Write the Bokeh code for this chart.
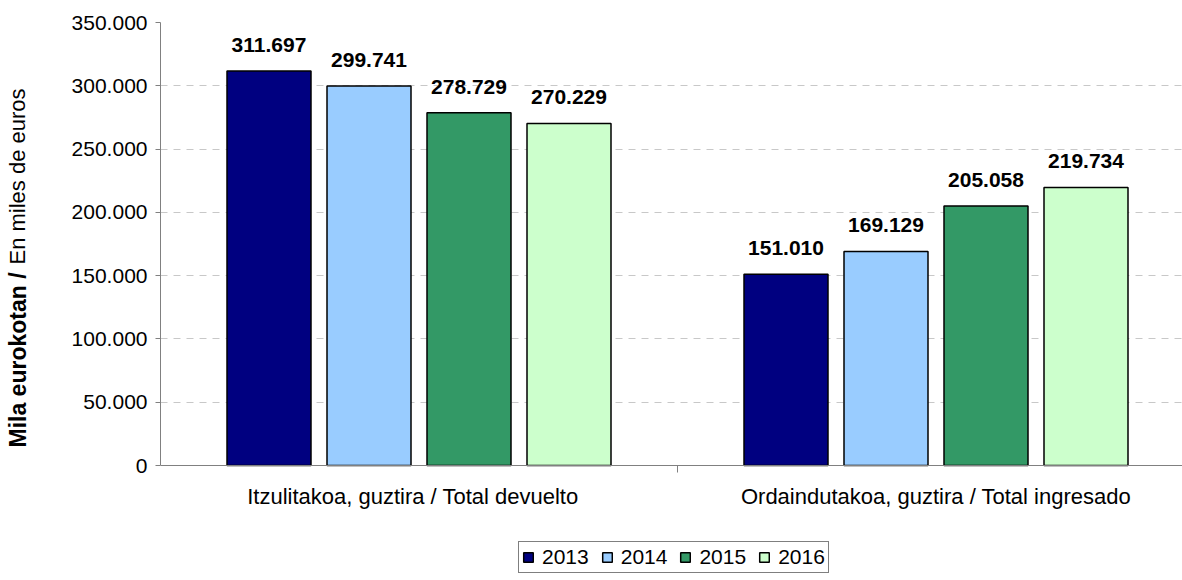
import math
from bokeh.plotting import figure
from bokeh.models import (Range1d, FixedTicker, CustomJSTickFormatter, Legend,
                          LegendItem, ColumnDataSource, Title)
from bokeh.transform import dodge
from bokeh.embed import file_html
from bokeh.resources import INLINE
from bokeh.core.properties import value

# ---- data ----
categories = ["Itzulitakoa, guztira  /  Total devuelto",
              "Ordaindutakoa, guztira / Total ingresado"]
years = ["2013", "2014", "2015", "2016"]
values_2013 = [311697, 151010]
values_2014 = [299741, 169129]
values_2015 = [278729, 205058]
values_2016 = [270229, 219734]
series = [values_2013, values_2014, values_2015, values_2016]
colors = ["#000080", "#99CCFF", "#339966", "#CCFFCC"]
y_ticks = [0, 50000, 100000, 150000, 200000, 250000, 300000, 350000]
y_max = 350000
y_title_bold = "Mila eurokotan /"
y_title_normal = "En miles de euros"

FONT = "Liberation Sans"
LEFT = 160
TOP = 22
PLOT_H = 443          # pixels from 0 to y_max
BELOW = 108           # frame extends below the zero line (labels + legend live here)
cat_pos = [0.5 + i for i in range(len(categories))]
px_per_unit = 517.0
bar_pitch = 100.0 / px_per_unit
bar_width = 84.0 / px_per_unit
FRAME_W = 1182 - LEFT
FRAME_H = PLOT_H + BELOW
y_min = -BELOW / PLOT_H * y_max


def fmt(v):
    return f"{v:,}".replace(",", ".")


p = figure(frame_width=FRAME_W, frame_height=FRAME_H,
           min_border_left=LEFT, min_border_right=0, min_border_top=TOP,
           min_border_bottom=7,
           x_range=Range1d(0, FRAME_W / px_per_unit), y_range=Range1d(y_min, y_max),
           output_backend="svg", toolbar_location=None,
           background_fill_color="white", border_fill_color="white")
p.outline_line_color = None

renderers = []
for i, (yr, vals, col) in enumerate(zip(years, series, colors)):
    off = (i - 1.5) * bar_pitch
    src = ColumnDataSource(dict(x=cat_pos, top=vals, label=[fmt(v) for v in vals]))
    r = p.vbar(x=dodge("x", off, range=p.x_range), top="top", bottom=0, width=bar_width,
               source=src, fill_color=col, line_color="black", line_width=1.5)
    renderers.append((yr, r))
    p.text(x=dodge("x", off, range=p.x_range), y="top", text="label", source=src,
           text_align="center", text_baseline="alphabetic", y_offset=-26,
           text_font=value(FONT), text_font_style="bold", text_font_size="21px",
           text_color="black")

# category labels under the zero line
p.text(x=cat_pos, y=[0] * len(cat_pos), text=categories, text_align="center",
       text_baseline="middle", y_offset=31, text_font=value(FONT),
       text_font_size="22px", text_color="black")

# y axis
p.yaxis.ticker = FixedTicker(ticks=y_ticks)
p.yaxis.bounds = (0, y_max)
p.yaxis.formatter = CustomJSTickFormatter(code="""
    return Math.round(tick).toString().replace(/\\B(?=(\\d{3})+(?!\\d))/g, ".");
""")
p.yaxis.axis_line_color = "#808080"
p.yaxis.major_tick_line_color = "#808080"
p.yaxis.major_tick_out = 5
p.yaxis.major_tick_in = 0
p.yaxis.minor_tick_line_color = None
p.yaxis.major_label_standoff = 8
p.yaxis.major_label_text_font = FONT
p.yaxis.major_label_text_font_size = "21px"
p.yaxis.major_label_text_color = "black"

# y axis title in two styles: spacer, then two zero-width titles sharing a column
p.add_layout(Title(text=" ", text_font_size="1px", standoff=47), "left")
t_bold = Title(text=y_title_bold, align="left", vertical_align="middle",
               offset=18 + BELOW, standoff=-27.5, text_font=FONT, text_font_size="23px",
               text_font_style="bold", text_color="black")
t_norm = Title(text=y_title_normal, align="left", vertical_align="middle",
               offset=201 + BELOW, standoff=-26, text_font=FONT, text_font_size="22px",
               text_font_style="normal", text_color="black")
p.add_layout(t_bold, "left")
p.add_layout(t_norm, "left")

# x axis: drawn on the zero line, with the divider tick between categories
p.xaxis.fixed_location = 0
p.xaxis.ticker = FixedTicker(ticks=[], minor_ticks=[1.0])
p.xaxis.axis_line_color = "#808080"
p.xaxis.major_tick_line_color = None
p.xaxis.major_label_text_font_size = "0px"
p.xaxis.major_label_standoff = 0
p.xaxis.minor_tick_line_color = "#808080"
p.xaxis.minor_tick_out = 7
p.xaxis.minor_tick_in = 0

# grid
p.xgrid.visible = False
p.ygrid.ticker = FixedTicker(ticks=y_ticks[1:])
p.ygrid.grid_line_color = "#C8C8C8"
p.ygrid.grid_line_dash = "7 6"

# legend, below the category labels
legend = Legend(items=[LegendItem(label=yr, renderers=[r]) for yr, r in renderers],
                orientation="horizontal", location=(518 - LEFT, 0),
                border_line_color="black", border_line_width=1,
                background_fill_color="white", background_fill_alpha=1,
                glyph_width=12, glyph_height=12, label_standoff=8, spacing=12,
                padding=3, margin=0,
                label_text_font=FONT, label_text_font_size="21px",
                label_text_color="black")
p.add_layout(legend, "center")

open("out.html", "w").write(file_html(p, INLINE))
